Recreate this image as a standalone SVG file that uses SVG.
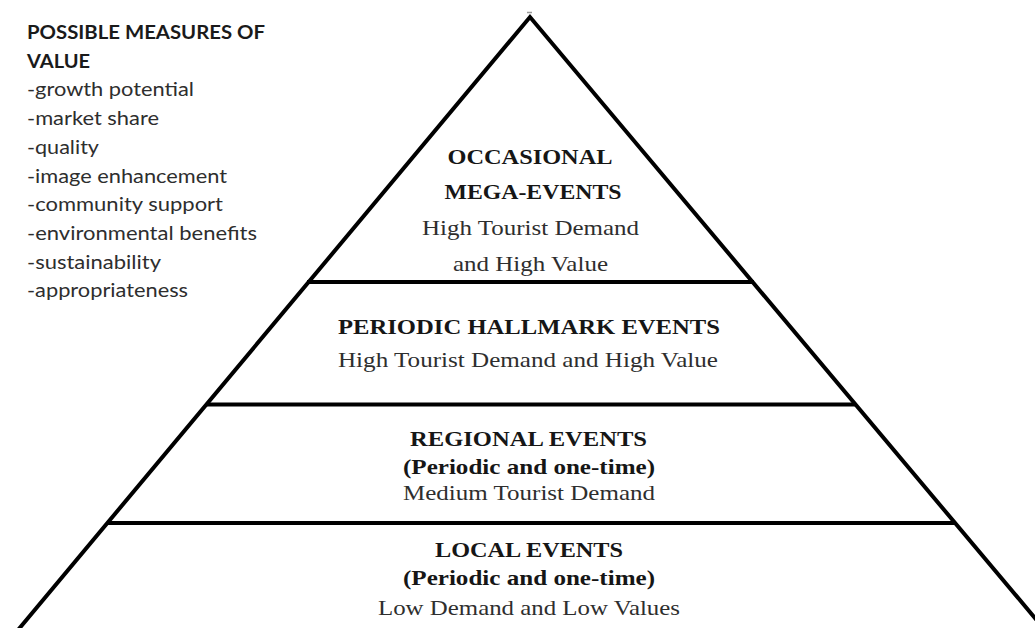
<svg xmlns="http://www.w3.org/2000/svg" width="1035" height="628" viewBox="0 0 1035 628">
<style>
.edge{fill:none;stroke:#000;stroke-width:4;stroke-linejoin:miter}
.tier{stroke:#000;stroke-width:4}
.lh{font-family:Lato,"Open Sans","Liberation Sans",sans-serif;font-size:19.5px;fill:#1a1a1a;font-weight:bold}
.li{font-family:Lato,"Open Sans","Liberation Sans",sans-serif;font-size:19.5px;fill:#2e2e2e}
.tb{font-family:"Liberation Serif","Times New Roman",serif;font-size:22px;font-weight:bold;fill:#161616;text-anchor:middle}
.tr{font-family:"Liberation Serif","Times New Roman",serif;font-size:22px;fill:#2e2e2e;text-anchor:middle}
</style>
<rect width="1035" height="628" fill="#fff"/>
<g id="legend">
<text class="lh" x="27" y="39" textLength="238" lengthAdjust="spacingAndGlyphs">POSSIBLE MEASURES OF</text>
<text class="lh" x="27" y="67.7" textLength="63" lengthAdjust="spacingAndGlyphs">VALUE</text>
<text class="li" x="27" y="96.4" textLength="167" lengthAdjust="spacingAndGlyphs">-growth potential</text>
<text class="li" x="27" y="125.1" textLength="132" lengthAdjust="spacingAndGlyphs">-market share</text>
<text class="li" x="27" y="153.8" textLength="72" lengthAdjust="spacingAndGlyphs">-quality</text>
<text class="li" x="27" y="182.5" textLength="200" lengthAdjust="spacingAndGlyphs">-image enhancement</text>
<text class="li" x="27" y="211.2" textLength="196" lengthAdjust="spacingAndGlyphs">-community support</text>
<text class="li" x="27" y="239.9" textLength="230" lengthAdjust="spacingAndGlyphs">-environmental benefits</text>
<text class="li" x="27" y="268.6" textLength="134" lengthAdjust="spacingAndGlyphs">-sustainability</text>
<text class="li" x="27" y="297.3" textLength="161" lengthAdjust="spacingAndGlyphs">-appropriateness</text>
</g>
<g id="connectors">
<polyline class="edge" points="18,630 530,17 1045,630"/>
<line x1="527" y1="12.5" x2="532" y2="12.5" stroke="#999" stroke-width="1.5"/>
</g>
<g id="tier-mega">
<text class="tb" x="530" y="164" textLength="165" lengthAdjust="spacingAndGlyphs">OCCASIONAL</text>
<text class="tb" x="533" y="199" textLength="177" lengthAdjust="spacingAndGlyphs">MEGA-EVENTS</text>
<text class="tr" x="530.5" y="235" textLength="217" lengthAdjust="spacingAndGlyphs">High  Tourist Demand</text>
<text class="tr" x="530.5" y="271" textLength="155" lengthAdjust="spacingAndGlyphs">and High  Value</text>
</g>
<g id="tier-hallmark">
<line class="tier" x1="307" y1="282" x2="754" y2="282"/>
<text class="tb" x="529" y="334" textLength="382" lengthAdjust="spacingAndGlyphs">PERIODIC HALLMARK EVENTS</text>
<text class="tr" x="528" y="367" textLength="380" lengthAdjust="spacingAndGlyphs">High  Tourist Demand and High  Value</text>
</g>
<g id="tier-regional">
<line class="tier" x1="206" y1="404.5" x2="856" y2="404.5"/>
<text class="tb" x="528.5" y="446" textLength="237" lengthAdjust="spacingAndGlyphs">REGIONAL  EVENTS</text>
<text class="tb" x="529" y="474" textLength="252" lengthAdjust="spacingAndGlyphs">(Periodic and one-time)</text>
<text class="tr" x="529" y="500" textLength="252" lengthAdjust="spacingAndGlyphs">Medium  Tourist Demand</text>
</g>
<g id="tier-local">
<line class="tier" x1="107" y1="523" x2="955" y2="523"/>
<text class="tb" x="529" y="557" textLength="188" lengthAdjust="spacingAndGlyphs">LOCAL EVENTS</text>
<text class="tb" x="529" y="585" textLength="252" lengthAdjust="spacingAndGlyphs">(Periodic and one-time)</text>
<text class="tr" x="529" y="615" textLength="302" lengthAdjust="spacingAndGlyphs">Low Demand and Low Values</text>
</g>
</svg>
